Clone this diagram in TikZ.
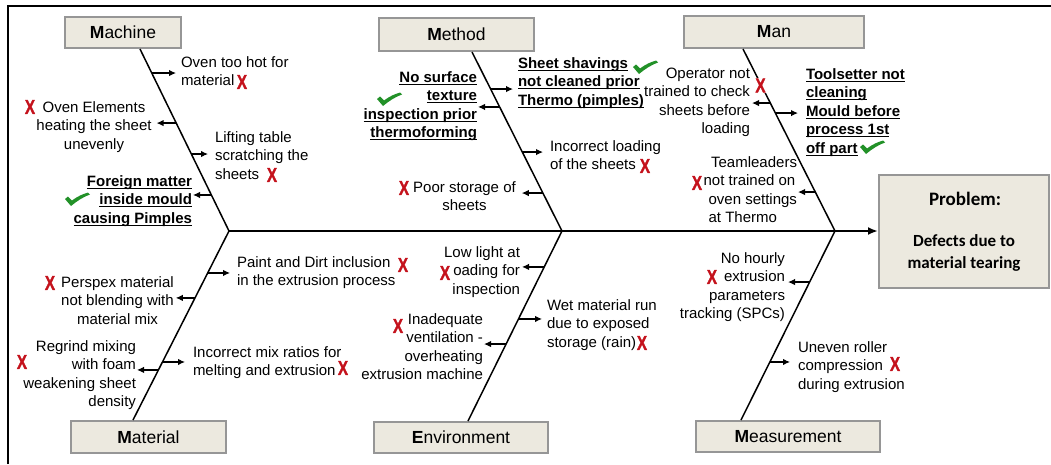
\documentclass[tikz,border=0pt]{standalone}
\usepackage{fontspec}
\setmainfont{Liberation Sans}
\newfontfamily\calib{Carlito}
\newfontface\xface[FakeBold=1.6]{Liberation Sans Bold}
\usetikzlibrary{arrows.meta,calc}

\definecolor{boxfill}{RGB}{236,233,223}
\definecolor{boxline}{RGB}{150,150,150}
\definecolor{xred}{RGB}{196,18,28}
\definecolor{ckgreen}{RGB}{34,145,40}

% underline at a fixed distance below the baseline
\newsavebox\ulinebox
\newcommand\ulbold[1]{\sbox\ulinebox{#1}\usebox\ulinebox\llap{\rule[-2.6pt]{\wd\ulinebox}{1.1pt}}}
% multi-line block whose baseline is that of its first line
\newcommand\txtlines[2]{\begin{tabular}[t]{@{}#1@{}}#2\end{tabular}}
\newcommand\redx{\scalebox{0.76}[1]{X}}
\newcommand\catlabel[2]{\textbf{#1}#2}

\tikzset{
  cat/.style={draw=boxline, fill=boxfill, line width=2pt, inner sep=0pt,
              font=\fontsize{17.5}{20}\selectfont},
  probbox/.style={draw=boxline, fill=boxfill, line width=2pt, inner sep=0pt},
  lbl/.style={inner sep=0pt, outer sep=0pt, font=\fontsize{15}{18.6}\selectfont},
  lblb/.style={lbl, font=\fontsize{15}{18.6}\selectfont\bfseries},
  xmark/.style={inner sep=0pt, text=xred, font=\xface\fontsize{20}{20}\selectfont},
  bone/.style={line width=1.5pt},
  spine/.style={line width=2pt, -{Latex[length=10pt,width=8pt]}},
  cause/.style={line width=1.2pt, -{Latex[length=7pt,width=6.5pt]}, shorten >=5pt},
  tick/.pic={\fill[ckgreen] (-12,-1) -- (-9,-3.5) -- (-5,0.5)
      .. controls (1,-4) and (6,-6) .. (11,-7.5) -- (13,-5.5)
      .. controls (6,-3) and (0,1) .. (-6,6) -- cycle;}
}

\begin{document}
\begin{tikzpicture}[x=1pt,y=-1pt]
\useasboundingbox (0,0) rectangle (1051,464);

% frame
\draw[line width=2pt] (8,464) -- (8,6) -- (1051,6);

% category boxes
\node[cat, minimum width=116pt, minimum height=31pt] (mach) at (123,32.5) {\catlabel{M}{achine}};
\node[cat, minimum width=155pt, minimum height=33pt] (meth) at (456.5,34.5) {\catlabel{M}{ethod}};
\node[cat, minimum width=180pt, minimum height=32pt] (man)  at (774,32) {\catlabel{M}{an}};
\node[cat, minimum width=155pt, minimum height=32pt] (matl) at (148.5,437) {\catlabel{M}{aterial}};
\node[cat, minimum width=174pt, minimum height=31pt] (env)  at (461,437.5) {\catlabel{E}{nvironment}};
\node[cat, minimum width=184pt, minimum height=31pt] (meas) at (788,436.5) {\catlabel{M}{easurement}};

% problem box
\node[probbox, minimum width=170pt, minimum height=113pt] (prob) at (964,231) {};
\node[anchor=base, inner sep=0pt, font=\calib\bfseries\fontsize{19}{19}\selectfont] (probt) at (965,205) {Problem:};
\node[anchor=base, inner sep=0pt, font=\calib\bfseries\fontsize{17}{22}\selectfont] (probd) at (964,246)
  {\txtlines{c}{Defects due to\\material tearing}};

% junctions on the spine and bone ends at the boxes
\coordinate (j1) at (229,231);
\coordinate (j2) at (562,231);
\coordinate (j3) at (835,231);
\coordinate (b1) at ($(mach.south)+(17,0)$);
\coordinate (b2) at ($(meth.south)+(15.5,0)$);
\coordinate (b3) at ($(man.south)+(-31,0)$);
\coordinate (b4) at ($(matl.north)+(-15.5,0)$);
\coordinate (b5) at ($(env.north)+(7,0)$);
\coordinate (b6) at ($(meas.north)+(-47,0)$);

% spine and bones
\draw[spine] (j1) -- (prob.west);
\draw[bone] (b1) -- (j1);
\draw[bone] (b2) -- (j2);
\draw[bone] (b3) -- (j3);
\draw[bone] (b4) -- (j1);
\draw[bone] (b5) -- (j2);
\draw[bone] (b6) -- (j3);

% ---------- Machine ----------
\node[lbl, anchor=base west] (m1) at (181,67) {\txtlines{l}{Oven too hot for\\material}};
\node[lbl, anchor=base] (m2) at (94,112) {\txtlines{c}{Oven Elements\\heating the sheet\\unevenly}};
\node[lbl, anchor=base west] (m3) at (215,142) {\txtlines{l}{Lifting table\\scratching the\\sheets}};
\node[lblb, anchor=base east] (m4) at (192,186)
  {\txtlines{r}{\ulbold{Foreign matter}\\\ulbold{inside mould}\\\ulbold{causing Pimples}}};
\coordinate (m1a) at ($(b1)!0.132!(j1)$);
\coordinate (m2a) at ($(b1)!0.407!(j1)$);
\coordinate (m3a) at ($(b1)!0.577!(j1)$);
\coordinate (m4a) at ($(b1)!0.802!(j1)$);
\draw[cause] (m1a) -- (m1a -| m1.west);
\draw[cause] (m2a) -- (m2a -| m2.east);
\draw[cause, shorten >=7pt] (m3a) -- (m3a -| m3.west);
\draw[cause, shorten >=1pt] (m4a) -- (m4a -| m4.east);
\node[xmark] (xm1) at (242,82) {\redx};
\node[xmark] (xm2) at (30,107) {\redx};
\node[xmark] (xm3) at (272,175) {\redx};
\pic at (77,200) {tick};

% ---------- Method ----------
\node[lblb, anchor=base west] (t1) at (518,68)
  {\txtlines{l}{\ulbold{Sheet shavings}\\\ulbold{not cleaned prior}\\\ulbold{Thermo (pimples)}}};
\node[lblb, anchor=base east] (t2) at (477,82)
  {\txtlines{r}{\ulbold{No surface}\\\ulbold{texture}\\\ulbold{inspection prior}\\\ulbold{thermoforming}}};
\node[lbl, anchor=base west] (t3) at (550,151) {\txtlines{l}{Incorrect loading\\of the sheets}};
\node[lbl, anchor=base] (t4) at (464.5,192) {\txtlines{c}{Poor storage of\\sheets}};
\coordinate (t1a) at ($(b2)!0.207!(j2)$);
\coordinate (t2a) at ($(b2)!0.307!(j2)$);
\coordinate (t3a) at ($(b2)!0.559!(j2)$);
\coordinate (t4a) at ($(b2)!0.788!(j2)$);
\draw[cause] (t1a) -- (t1a -| t1.west);
\draw[cause, shorten >=1pt] (t2a) -- (t2a -| t2.east);
\draw[cause, shorten >=7pt] (t3a) -- (t3a -| t3.west);
\draw[cause, shorten >=6pt] (t4a) -- (t4a -| t4.east);
\node[xmark] (xt3) at (645,166) {\redx};
\node[xmark] (xt4) at (404,188) {\redx};
\pic at (645,68) {tick};
\pic at (389,100) {tick};

% ---------- Man ----------
\node[lbl, anchor=base east] (n1) at (750,78) {\txtlines{r}{Operator not\\trained to check\\sheets before\\loading}};
\node[lblb, anchor=base west] (n2) at (806,79)
  {\txtlines{l}{\ulbold{Toolsetter not}\\\ulbold{cleaning}\\\ulbold{Mould before}\\\ulbold{process 1st}\\\ulbold{off part}}};
\node[lbl, anchor=base east] (n3) at (797,167)
  {\txtlines{l}{\hfill Teamleaders\\not trained on\\\hspace{5pt}oven settings\\\hspace{5pt}at Thermo}};
\coordinate (n1a) at ($(b3)!0.297!(j3)$);
\coordinate (n2a) at ($(b3)!0.352!(j3)$);
\coordinate (n3a) at ($(b3)!0.786!(j3)$);
\draw[cause, shorten >=2pt] (n1a) -- (n1a -| n1.east);
\draw[cause, shorten >=8pt] (n2a) -- (n2a -| n2.west);
\draw[cause, shorten >=1pt] (n3a) -- (n3a -| n3.east);
\node[xmark, fill=white, inner sep=1pt] (xn1) at (760.5,85.5) {\redx};
\node[xmark] (xn3) at (697,183) {\redx};
\pic at (872,148) {tick};

% ---------- Material ----------
\node[lbl, anchor=base west] (a1) at (237,267) {\txtlines{l}{Paint and Dirt inclusion\\in the extrusion process}};
\node[lbl, anchor=base] (a2) at (117.5,287) {\txtlines{c}{Perspex material\\not blending with\\material mix}};
\node[lbl, anchor=base east] (a3) at (136,351) {\txtlines{r}{Regrind mixing\\with foam\\weakening sheet\\density}};
\node[lbl, anchor=base west] (a4) at (193,357) {\txtlines{l}{Incorrect mix ratios for\\melting and extrusion}};
\coordinate (a1a) at ($(j1)!0.222!(b4)$);
\coordinate (a2a) at ($(j1)!0.354!(b4)$);
\coordinate (a3a) at ($(j1)!0.735!(b4)$);
\coordinate (a4a) at ($(j1)!0.693!(b4)$);
\draw[cause, shorten >=7pt] (a1a) -- (a1a -| a1.west);
\draw[cause, shorten >=2pt] (a2a) -- (a2a -| a2.east);
\draw[cause, shorten >=1pt] (a3a) -- (a3a -| a3.east);
\draw[cause, shorten >=8pt] (a4a) -- (a4a -| a4.west);
\node[xmark] (xa1) at (403,265) {\redx};
\node[xmark] (xa2) at (50,283) {\redx};
\node[xmark] (xa3) at (22,362) {\redx};
\node[xmark] (xa4) at (343,368) {\redx};

% ---------- Environment ----------
\node[lbl, anchor=base east] (e1) at (520,257) {\txtlines{r}{Low light at\\oading for\\inspection}};
\node[lbl, anchor=base west] (e2) at (547,310) {\txtlines{l}{Wet material run\\due to exposed\\storage (rain)}};
\node[lbl, anchor=base east] (e3) at (483,324) {\txtlines{r}{Inadequate\\ventilation -\\overheating\\extrusion machine}};
\coordinate (e1a) at ($(j2)!0.189!(b5)$);
\coordinate (e2a) at ($(j2)!0.463!(b5)$);
\coordinate (e3a) at ($(j2)!0.595!(b5)$);
\draw[cause, shorten >=2pt] (e1a) -- (e1a -| e1.east);
\draw[cause] (e2a) -- (e2a -| e2.west);
\draw[cause, shorten >=1pt] (e3a) -- (e3a -| e3.east);
\node[xmark] (xe1) at (445,273) {\redx};
\node[xmark] (xe2) at (642,343) {\redx};
\node[xmark] (xe3) at (398,326) {\redx};

% ---------- Measurement ----------
\node[lbl, anchor=base east] (s1) at (785,263) {\txtlines{r}{No hourly\\extrusion\\parameters\\tracking (SPCs)}};
\node[lbl, anchor=base west] (s2) at (798,352) {\txtlines{l}{Uneven roller\\compression\\during extrusion}};
\coordinate (s1a) at ($(j3)!0.270!(b6)$);
\coordinate (s2a) at ($(j3)!0.693!(b6)$);
\draw[cause, shorten >=3pt] (s1a) -- (s1a -| s1.east);
\draw[cause, shorten >=8pt] (s2a) -- (s2a -| s2.west);
\node[xmark] (xs1) at (712,277) {\redx};
\node[xmark] (xs2) at (895,364) {\redx};

\end{tikzpicture}
\end{document}
